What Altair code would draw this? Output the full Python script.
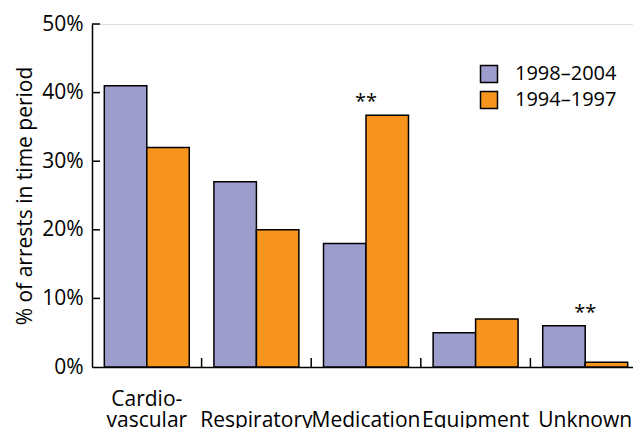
import altair as alt
import pandas as pd

categories = ["Cardio-vascular", "Respiratory", "Medication", "Equipment", "Unknown"]
periods = ["1998–2004", "1994–1997"]
recent = [41, 27, 18, 5, 6]
earlier = [32, 20, 36.7, 7, 0.7]
star_categories = ["Medication", "Unknown"]
star_values = [36.7, 6]
star_text = ["**", "**"]
y_tick_values = [0, 10, 20, 30, 40, 50]
colors = ["#9d9dcd", "#f7941d"]

rows = []
for c, a, b in zip(categories, recent, earlier):
    rows.append({"cat": c, "period": periods[0], "value": a})
    rows.append({"cat": c, "period": periods[1], "value": b})
df = pd.DataFrame(rows)
stars = pd.DataFrame({"cat": star_categories, "value": star_values, "text": star_text})
xticks = pd.DataFrame({"cat": categories[1:]})
yticks = pd.DataFrame({"v": y_tick_values[1:]})

W = 541      # visible part of the plot
RANGE = 548  # band range of the x axis (runs a little past the visible edge)
H = 343
FONT = "Open Sans"

x_scale = alt.Scale(domain=categories, paddingInner=0, paddingOuter=0, range=[0, RANGE])
y_scale = alt.Scale(domain=[0, 50], nice=False)

x_axis = alt.Axis(
    title=None,
    labelExpr="datum.value == 'Cardio-vascular' ? ['Cardio-', 'vascular'] : ['', datum.value]",
    labelFontSize=21, labelFont=FONT, labelColor="black", ticks=False,
    domainColor="black", domainWidth=1.5, labelPadding=38,
    labelBaseline="alphabetic", labelLineHeight=21, labelAngle=0,
)
y_axis = alt.Axis(
    title="% of arrests in time period", values=y_tick_values,
    labelExpr="datum.value + '%'", ticks=False, grid=False,
    labelFontSize=21, labelFont=FONT, labelColor="black", labelPadding=9,
    titleFontSize=21, titleFont=FONT, titleFontWeight="normal", titleColor="black",
    titlePadding=6, domainColor="black", domainWidth=1.5,
)

bars = alt.Chart(df).mark_bar(stroke="black", strokeWidth=1.5).encode(
    x=alt.X("cat:N", scale=x_scale, sort=categories, axis=x_axis),
    xOffset=alt.XOffset("period:N", sort=periods,
                        scale=alt.Scale(domain=periods, paddingInner=0, paddingOuter=0.29)),
    y=alt.Y("value:Q", scale=y_scale, axis=y_axis),
    color=alt.Color("period:N", sort=periods,
                    scale=alt.Scale(domain=periods, range=colors),
                    legend=alt.Legend(
                        title=None, orient="none", legendX=387, legendY=40,
                        symbolType="square", symbolSize=289, symbolStrokeColor="black",
                        symbolStrokeWidth=1.5, symbolOpacity=1, labelFontSize=20,
                        labelFont=FONT, labelColor="black", labelOffset=16,
                        rowPadding=2, padding=0,
                    )),
)

xtick_rules = alt.Chart(xticks).mark_rule(color="black", strokeWidth=1.5).encode(
    x=alt.X("cat:N", scale=x_scale, sort=categories, bandPosition=0),
    y=alt.YDatum(0, scale=y_scale),
    y2=alt.value(H - 9),
)

ytick_rules = alt.Chart(yticks).mark_rule(color="black", strokeWidth=1.5).encode(
    y=alt.Y("v:Q", scale=y_scale),
    x=alt.value(0),
    x2=alt.value(8),
)

star_marks = alt.Chart(stars).mark_text(
    font=FONT, fontSize=20, color="black", baseline="alphabetic", dy=-7
).encode(
    x=alt.X("cat:N", scale=x_scale, sort=categories),
    y=alt.Y("value:Q", scale=y_scale),
    text="text:N",
)

chart = alt.layer(bars, xtick_rules, ytick_rules, star_marks).properties(
    width=W, height=H,
    autosize=alt.AutoSizeParams(type="none"),
    padding={"left": 84, "top": 16, "right": 0, "bottom": 62},
).configure_view(stroke=None).configure(font=FONT)

chart.save("out.html", embed_options={"renderer": "svg", "actions": False})
